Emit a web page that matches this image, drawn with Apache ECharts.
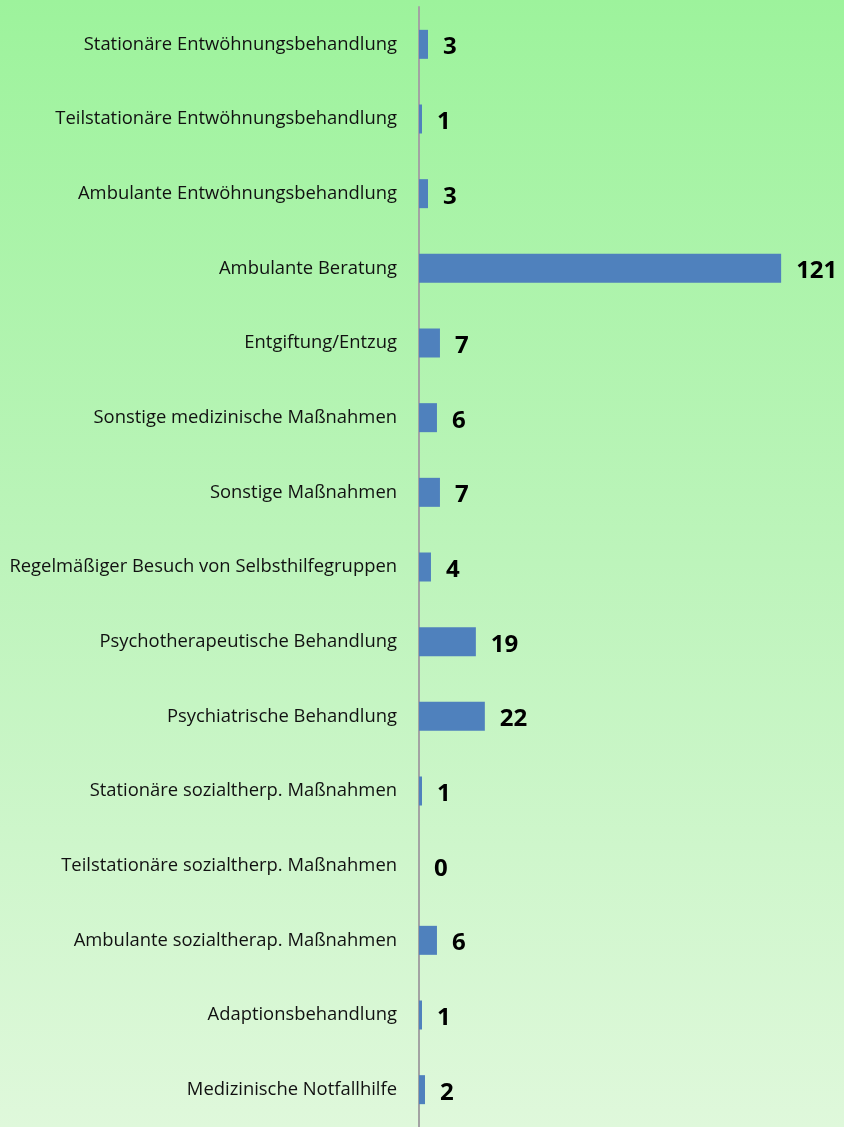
<!DOCTYPE html>
<html>
<head>
<meta charset="utf-8">
<script src="https://cdn.jsdelivr.net/npm/echarts@6/dist/echarts.min.js"></script>
<style>
  html, body { margin: 0; padding: 0; }
  #chart { width: 844px; height: 1127px; background: linear-gradient(to bottom, #9df39c 0%, #bdf4bb 50%, #dff8db 100%); }
</style>
</head>
<body>
<div id="chart"></div>
<script>
// categories top to bottom, as in the picture
const categories = [
    'Stationäre Entwöhnungsbehandlung',
    'Teilstationäre Entwöhnungsbehandlung',
    'Ambulante Entwöhnungsbehandlung',
    'Ambulante Beratung',
    'Entgiftung/Entzug',
    'Sonstige medizinische Maßnahmen',
    'Sonstige Maßnahmen',
    'Regelmäßiger Besuch von Selbsthilfegruppen',
    'Psychotherapeutische Behandlung',
    'Psychiatrische Behandlung',
    'Stationäre sozialtherp. Maßnahmen',
    'Teilstationäre sozialtherp. Maßnahmen',
    'Ambulante sozialtherap. Maßnahmen',
    'Adaptionsbehandlung',
    'Medizinische Notfallhilfe'
]
const counts = [3, 1, 3, 121, 7, 6, 7, 4, 19, 22, 1, 0, 6, 1, 2]

const chart = echarts.init(document.getElementById('chart'))

const option = {
    backgroundColor: 'transparent',
    animation: false,
    grid: {
        left: 419,
        top: 7,
        width: 419,
        height: 1126,
        containLabel: false
    },
    xAxis: {
        type: 'value',
        min: 0,
        max: 140,
        show: false
    },
    yAxis: {
        type: 'category',
        inverse: true,
        data: categories,
        axisLine: { show: true, lineStyle: { color: '#a3a3a3', width: 2 } },
        axisTick: { show: false },
        axisLabel: {
            margin: 22,
            color: '#111',
            fontSize: 18.4,
            fontFamily: 'Open Sans',
            padding: [4, 0, 0, 0]
        }
    },
    series: [{
        type: 'bar',
        data: counts,
        barWidth: 29,
        itemStyle: { color: '#4f81bd' },
        label: {
            show: true,
            position: 'right',
            distance: 15,
            offset: [0, 3],
            color: '#000',
            fontSize: 24,
            fontWeight: 'bold',
            fontFamily: 'Open Sans'
        }
    }]
}

chart.setOption(option)
</script>
</body>
</html>
